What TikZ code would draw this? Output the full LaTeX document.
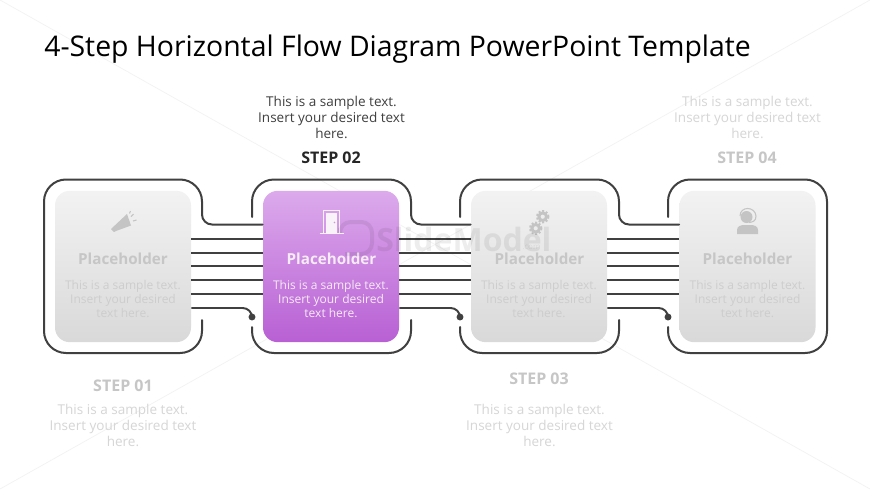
\documentclass[tikz,border=0pt]{standalone}
\usepackage{fontspec}
\setmainfont{Open Sans}
\usetikzlibrary{calc}
\definecolor{ink}{HTML}{404040}
\definecolor{fadehead}{HTML}{C6C6C6}
\definecolor{fadetext}{HTML}{D6D6D6}
\definecolor{cardtext}{HTML}{CDCDCD}
\definecolor{iconfill}{HTML}{C4C4C4}
\tikzset{
  x=0.75pt,y=-0.75pt,
  card/.style={rectangle,rounded corners=11pt,minimum width=102pt,minimum height=113.5pt,inner sep=0pt,draw=none},
  graycard/.style={card,top color=black!5,bottom color=black!15},
  wire/.style={draw=ink,line width=1.45pt},
  outl/.style={draw=ink,line width=1.5pt,line cap=round,rounded corners=16.5pt},
  dotnode/.style={circle,fill=ink,minimum size=5.2pt,inner sep=0pt},
  cardhead/.style={font=\fontsize{11.4}{13}\selectfont\bfseries,inner sep=0pt},
  cardbody/.style={font=\fontsize{9}{10.15}\selectfont,align=center,inner sep=0pt},
  sidebody/.style={font=\fontsize{10.15}{12}\selectfont,align=center,inner sep=0pt},
  stepname/.style={font=\fontsize{12}{13}\selectfont\bfseries,inner sep=0pt},
  gearring/.style={draw=iconfill,line width=2.2pt},
  gearteeth/.style={draw=iconfill,line width=1.3pt,dash pattern=on 1.5pt off 1.35pt},
}
\begin{document}
\begin{tikzpicture}
\useasboundingbox (0,0) rectangle (870,489);
\fill[white] (0,0) rectangle (870,489);
% faint background diagonals
\draw[black!5,line width=0.5pt] (0,0) -- (870,489);
\draw[black!5,line width=0.5pt] (0,489) -- (870,0);
% title
\node[anchor=base west,inner sep=0pt,font=\fontsize{21.3}{25}\selectfont,text=black] (title) at (44,56) {4-Step Horizontal Flow Diagram PowerPoint Template};
% cards
\node[graycard] (c1) at (123,266.5) {};
\node[card,top color={rgb,255:red,220;green,170;blue,236},bottom color={rgb,255:red,184;green,96;blue,212}] (c2) at (331,266.5) {};
\node[graycard] (c3) at (539,266.5) {};
\node[graycard] (c4) at (747.5,266.5) {};
% y levels
\coordinate (l0) at (0,224.5);
\coordinate (l1) at (0,239);
\coordinate (l2) at (0,252.7);
\coordinate (l3) at (0,266.3);
\coordinate (l4) at (0,280.3);
\coordinate (l5) at (0,294.3);
\coordinate (l6) at (0,308);
% dots
\node[dotnode] (d2) at (252,317) {};
\node[dotnode] (d3) at (460,317) {};
\node[dotnode] (d4) at (668,317) {};
% straight wires
\foreach \a/\b in {c1/c2,c2/c3,c3/c4}{
  \foreach \l in {l1,l2,l3,l4,l5}{
    \draw[wire] (\a.east |- \l) -- (\b.west |- \l);
  }
}
% wires into dots
\draw[wire,rounded corners=7pt] (c1.east |- l6) -| (d2.center);
\draw[wire,rounded corners=7pt] (c2.east |- l6) -| (d3.center);
\draw[wire,rounded corners=7pt] (c3.east |- l6) -| (d4.center);
% outlines
\draw[outl] (202,320) -- (202,353) -- (44,353) -- (44,179.5) -- (202,179.5) [rounded corners=7.5pt] -- (202,224.5) -- (c2.west |- l0);
\draw[outl] (252,217) -- (252,179.5) -- (411,179.5) [rounded corners=7.5pt] -- (411,224.5) -- (c3.west |- l0);
\draw[outl] (252,327) -- (252,353) -- (411,353) -- (411,320);
\draw[outl] (460,217) -- (460,179.5) -- (619,179.5) [rounded corners=7.5pt] -- (619,224.5) -- (c4.west |- l0);
\draw[outl] (460,327) -- (460,353) -- (619,353) -- (619,320);
\draw[outl] (668,217) -- (668,179.5) -- (827,179.5) -- (827,353) -- (668,353) -- (668,327);
% card texts
\node[cardhead,text=fadehead] (h1) at (123,258.5) {Placeholder};
\node[cardbody,text=cardtext] (b1) at (123,299) {This is a sample text.\\Insert your desired\\text here.};
\node[cardhead,text=white!92!violet] (h2) at (331.5,258.5) {Placeholder};
\node[cardbody,text=white!92!violet] (b2) at (331,299) {This is a sample text.\\Insert your desired\\text here.};
\node[cardhead,text=fadehead] (h3) at (539.5,258.5) {Placeholder};
\node[cardbody,text=cardtext] (b3) at (539,299) {This is a sample text.\\Insert your desired\\text here.};
\node[cardhead,text=fadehead] (h4) at (747.5,258.5) {Placeholder};
\node[cardbody,text=cardtext] (b4) at (747.5,299) {This is a sample text.\\Insert your desired\\text here.};
% side texts
\node[sidebody,text=ink] (s2) at (331.5,117.5) {This is a sample text.\\Insert your desired text\\here.};
\node[stepname,text=black!85] (n2) at (331,157.5) {STEP 02};
\node[sidebody,text=fadetext] (s4) at (747.5,117.5) {This is a sample text.\\Insert your desired text\\here.};
\node[stepname,text=fadehead] (n4) at (747,157.5) {STEP 04};
\node[stepname,text=fadehead] (n1) at (123,385.5) {STEP 01};
\node[sidebody,text=fadetext] (s1) at (123,425.5) {This is a sample text.\\Insert your desired text\\here.};
\node[stepname,text=fadehead] (n3) at (539,378.5) {STEP 03};
\node[sidebody,text=fadetext] (s3) at (539.5,425.5) {This is a sample text.\\Insert your desired text\\here.};
% megaphone
\fill[iconfill] (111,229) -- (127,214) -- (131,225.5) -- (116,231) -- (114,232) -- cycle;
\draw[iconfill,line width=0.8pt] (131,216.5) -- (133.5,214) (133,221) -- (136.5,220) (129.5,213.5) -- (130.5,211);
% door
\draw[white!95!violet,line width=1pt] (319.5,233.5) -- (343.5,233.5) (323.5,233.5) -- (323.5,210.5) -- (339.5,210.5) -- (339.5,233.5);
\fill[white!95!violet] (326,212.5) -- (337,212.5) -- (337,233) -- (326,233) -- cycle;
\fill[violet!40!white] (334.5,222.5) circle[radius=0.9];
% gears
\draw[gearring] (542.7,216.7) circle[radius=3.8];
\draw[gearteeth] (542.7,216.7) circle[radius=5.8];
\draw[gearring] (535.7,228.3) circle[radius=3.8];
\draw[gearteeth] (535.7,228.3) circle[radius=5.8];
% headset person
\fill[iconfill] (746.5,217) circle[radius=6];
\draw[iconfill,line width=0.8pt] (740,216) .. controls (740,206) and (755,206) .. (756,216) .. controls (756,221) and (753,222) .. (749,222.5);
\fill[iconfill] (737,234) -- (737,230) .. controls (737,226) and (741,225) .. (745,225) -- (750,225) .. controls (754,225) and (758,226) .. (758,230) -- (758,234) -- cycle;
% watermark
\begin{scope}[opacity=0.07]
\draw[black,line width=3pt,rounded corners=8pt] (340,228) -- (340,222) -- (372,222) -- (372,254) -- (345,254);
\node[anchor=base west,inner sep=0pt,font=\fontsize{24}{26}\selectfont\bfseries,text=black] (wm) at (376,251) {SlideModel};
\node[anchor=base west,inner sep=0pt,font=\fontsize{6}{7}\selectfont,text=black] (wmc) at (522,249) {.com};
\end{scope}
\end{tikzpicture}
\end{document}
